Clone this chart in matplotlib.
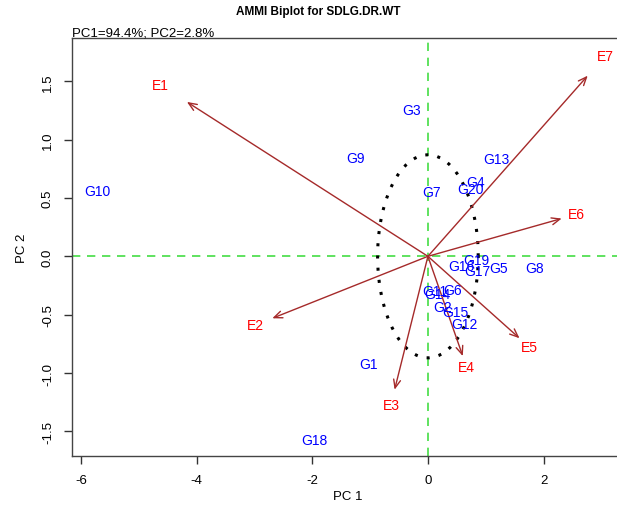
import numpy as np
import matplotlib
matplotlib.use("Agg")
from matplotlib import pyplot as plt

plt.rcParams['font.family'] = ['Liberation Sans', 'DejaVu Sans']

# Environment scores (PC1, PC2)
env_names = ["E1", "E2", "E3", "E4", "E5", "E6", "E7"]
env_pc1 = [-4.63, -2.99, -0.64, 0.67, 1.76, 2.57, 3.07]
env_pc2 = [1.47, -0.59, -1.27, -0.95, -0.78, 0.36, 1.72]

# Genotype scores (PC1, PC2)
gen_names = ["G1", "G2", "G3", "G4", "G5", "G6", "G7", "G8", "G9", "G10",
             "G11", "G12", "G13", "G14", "G15", "G16", "G17", "G18", "G19", "G20"]
gen_pc1 = [-1.02, 0.26, -0.29, 0.83, 1.23, 0.43, 0.07, 1.85, -1.26, -5.72,
           0.12, 0.64, 1.19, 0.17, 0.48, 0.57, 0.85, -1.97, 0.83, 0.74]
gen_pc2 = [-0.92, -0.43, 1.25, 0.64, -0.10, -0.29, 0.55, -0.10, 0.84, 0.56,
           -0.30, -0.58, 0.83, -0.32, -0.48, -0.08, -0.13, -1.57, -0.03, 0.58]

circle_radius = 0.87


def main():
    fig = plt.figure(figsize=(6.17, 5.10), dpi=100)
    ax = fig.add_axes([0.1167, 0.1039, 0.8946, 0.819])

    ax.axhline(0, color="#44dd44", linestyle=(0, (5, 4)), lw=1.2, zorder=1)
    ax.axvline(0, color="#44dd44", linestyle=(0, (5, 4)), lw=1.2, zorder=1)

    # Environment vectors (arrows drawn to 90% of the score)
    for name, x, y in zip(env_names, env_pc1, env_pc2):
        ax.annotate("", xy=(0.9 * x, 0.9 * y), xytext=(0, 0),
                    arrowprops=dict(arrowstyle="->,head_length=0.6,head_width=0.25",
                                    color="#A52A2A", lw=1.0, shrinkA=0, shrinkB=0))
        ax.text(x, y, name, color="red", fontsize=10, ha="center", va="center")

    for name, x, y in zip(gen_names, gen_pc1, gen_pc2):
        ax.text(x, y, name, color="blue", fontsize=10, ha="center", va="center")

    theta = np.linspace(0, 2 * np.pi, 200)
    ax.plot(circle_radius * np.cos(theta), circle_radius * np.sin(theta),
            color="black", linestyle=(0, (1, 3)), lw=2.2)

    ax.set_xlim(-6.154, 3.39)
    ax.set_ylim(-1.711, 1.868)
    ax.set_xticks([-6, -4, -2, 0, 2])
    ax.set_yticks([-1.5, -1.0, -0.5, 0.0, 0.5, 1.0, 1.5])
    ax.set_xticklabels(["-6", "-4", "-2", "0", "2"])
    ax.set_yticklabels(["-1.5", "-1.0", "-0.5", "0.0", "0.5", "1.0", "1.5"],
                       rotation=90, va="center")
    ax.tick_params(labelsize=9.5, length=6, width=1, color="#333333", pad=7)
    for s in ax.spines.values():
        s.set_color("#444444")
        s.set_linewidth(1.0)

    fig.text(348 / 617, 1 - 497 / 510, "PC 1", fontsize=9.5, ha="center", va="center")
    ax.set_ylabel("PC 2", fontsize=9.5, labelpad=10)

    fig.text(318 / 617, 1 - 12 / 510, "AMMI Biplot for SDLG.DR.WT", fontsize=8.5,
             fontweight="bold", ha="center", va="center")
    fig.text(72 / 617, 1 - 33 / 510, "PC1=94.4%; PC2=2.8%", fontsize=9.5,
             ha="left", va="center")

    fig.savefig("out.png", dpi=100)


if __name__ == "__main__":
    main()
